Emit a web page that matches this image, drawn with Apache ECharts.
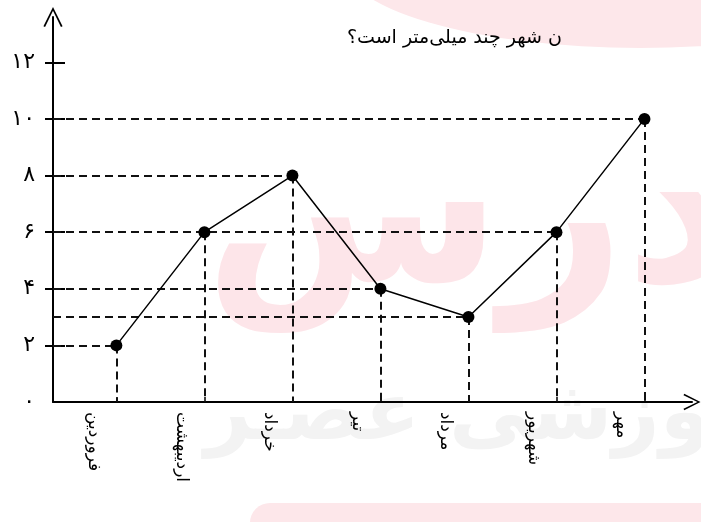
<!DOCTYPE html>
<html>
<head>
<meta charset="utf-8">
<script src="https://cdn.jsdelivr.net/npm/echarts@6/dist/echarts.min.js"></script>
<style>
  html, body { margin: 0; background: #fff; }
  #chart { width: 701px; height: 522px; }
</style>
</head>
<body>
<div id="chart"></div>
<script>
  // rainfall per month (mm)
  var months = ['فروردین', 'اردیبهشت', 'خرداد', 'تیر', 'مرداد', 'شهریور', 'مهر'];
  var rain = [2, 6, 8, 4, 3, 6, 10];
  var yTicks = [0, 2, 4, 6, 8, 10, 12];
  var yTickLabels = ['۰', '۲', '۴', '۶', '۸', '۱۰', '۱۲'];
  var question = 'ن شهر چند میلی‌متر است؟';

  var X_MIN = -0.72, X_MAX = 6.54;
  var monthIdx = months.map(function (m, i) { return i; });

  var points = rain.map(function (v, i) { return [i, v]; });
  // dashed guides: from y axis to point, then point down to x axis
  var guides = [];
  rain.forEach(function (v, i) {
    guides.push([{ coord: [X_MIN, v] }, { coord: [i, v] }]);
    guides.push([{ coord: [i, v] }, { coord: [i, 0] }]);
  });

  var chevron = 'path://M0,20 L10,0 L20,20 L18.3,20.9 L10,3.8 L1.7,20.9 Z';
  var arabicFont = '"DejaVu Sans", "Noto Sans", sans-serif';

  var chart = echarts.init(document.getElementById('chart'));
  chart.setOption({
    animation: false,
    backgroundColor: '#fff',
    grid: { left: 53, right: 9, top: 17, bottom: 120 },
    graphic: [
      { type: 'circle', z: -10, shape: { cx: 640, cy: -40, r: 88 }, scaleX: 3.4, originX: 640, originY: -40, style: { fill: '#fde7ea' } },
      { type: 'rect', z: -10, shape: { x: 250, y: 503, width: 480, height: 40, r: 22 }, style: { fill: '#fde7ea' } },
      { type: 'text', z: -9, x: 470, y: 225, style: { text: 'درس', font: 'bold 215px ' + arabicFont, fill: '#fde5e9', align: 'center', verticalAlign: 'middle' } },
      { type: 'text', z: -9, x: 790, y: 418, style: { text: 'آموزشی عصـر', font: 'bold 82px ' + arabicFont, fill: '#f3f3f3', align: 'right', verticalAlign: 'middle' } },
      { type: 'text', x: 562, y: 38, style: { text: question, font: '19px ' + arabicFont, fill: '#000', align: 'right', verticalAlign: 'middle' } }
    ],
    xAxis: {
      type: 'value',
      min: X_MIN,
      max: X_MAX,
      splitLine: { show: false },
      axisLine: {
        onZero: false,
        symbol: ['none', chevron],
        symbolSize: [20, 17],
        lineStyle: { color: '#000', width: 2 }
      },
      axisTick: {
        customValues: monthIdx,
        inside: true,
        length: 5,
        lineStyle: { color: '#000', width: 1.5 }
      },
      axisLabel: {
        customValues: monthIdx,
        rotate: -90,
        margin: 10,
        verticalAlign: 'top',
        lineHeight: 46,
        color: '#000',
        fontSize: 17,
        fontFamily: arabicFont,
        formatter: function (v) { return months[Math.round(v)]; }
      }
    },
    yAxis: [{
      type: 'value',
      position: 'left',
      min: 0,
      max: 13.6,
      splitLine: { show: false },
      axisLine: {
        onZero: false,
        symbol: ['none', chevron],
        symbolSize: [20, 20],
        lineStyle: { color: '#000', width: 2 }
      },
      axisTick: {
        customValues: yTicks.slice(1),
        length: 8,
        lineStyle: { color: '#000', width: 2 }
      },
      axisLabel: {
        customValues: yTicks,
        margin: 18,
        color: '#000',
        fontSize: 22,
        fontFamily: arabicFont,
        formatter: function (v) { return yTickLabels[yTicks.indexOf(Math.round(v))]; }
      }
    }, {
      type: 'value',
      position: 'left',
      min: 0,
      max: 13.6,
      splitLine: { show: false },
      axisLine: { show: false, onZero: false },
      axisTick: {
        customValues: yTicks.slice(1),
        inside: true,
        length: 12,
        lineStyle: { color: '#000', width: 2 }
      },
      axisLabel: { show: false }
    }],
    series: [{
      type: 'line',
      data: points,
      symbol: 'circle',
      symbolSize: 12,
      itemStyle: { color: '#000' },
      lineStyle: { color: '#000', width: 1.5 },
      z: 5,
      markLine: {
        silent: true,
        symbol: ['none', 'none'],
        label: { show: false },
        lineStyle: { color: '#111', width: 2, type: [8, 5] },
        data: guides
      }
    }]
  });
</script>
</body>
</html>
